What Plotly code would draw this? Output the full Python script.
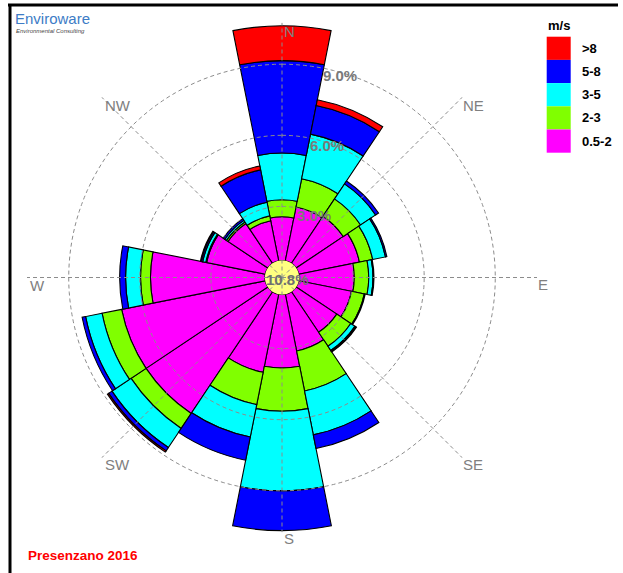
import math
import numpy as np
import plotly.graph_objects as go

# ---------------- data ----------------
DIRECTIONS = ["N", "NNE", "NE", "ENE", "E", "ESE", "SE", "SSE",
              "S", "SSW", "SW", "WSW", "W", "WNW", "NW", "NNW"]
DIR_ANGLES = [i * 22.5 for i in range(16)]

SPEED_CLASSES = ["0.5-2", "2-3", "3-5", "5-8", ">8"]
CLASS_COLORS = ["#FF00FF", "#80FF00", "#00FFFF", "#0000FF", "#FF0000"]

FREQ_05_2 = [1.84, 2.31, 2.39, 2.61, 2.33, 2.27, 2.06, 2.44, 3.10, 3.36, 6.18, 6.18, 4.83, 2.52, 2.02, 1.72]
FREQ_2_3 = [0.72, 1.22, 0.88, 0.57, 0.61, 0.55, 0.71, 1.72, 1.82, 1.39, 0.76, 0.84, 0.42, 0.04, 0.08, 0.21]
FREQ_3_5 = [1.97, 1.92, 0.76, 0.55, 0.18, 0.04, 0.21, 1.89, 3.36, 1.39, 0.97, 0.71, 0.63, 0.13, 0.08, 0.59]
FREQ_5_8 = [3.90, 1.23, 0.15, 0.06, 0.04, 0.00, 0.04, 0.59, 1.68, 1.00, 0.17, 0.15, 0.25, 0.06, 0.08, 1.39]
FREQ_GT8 = [1.47, 0.25, 0.00, 0.00, 0.00, 0.00, 0.04, 0.00, 0.00, 0.00, 0.06, 0.00, 0.00, 0.04, 0.00, 0.17]
SERIES = [FREQ_05_2, FREQ_2_3, FREQ_3_5, FREQ_5_8, FREQ_GT8]

CALM_PCT = 10.8
GRID_VALUES = [3, 6, 9]
COMPASS_LABELS = ["N", "NE", "E", "SE", "S", "SW", "W", "NW"]
COMPASS_ANGLES = [0, 45, 90, 135, 180, 225, 270, 315]

TITLE = "Presenzano 2016"
UNITS = "m/s"

# ---------------- geometry / style ----------------
W, H = 623, 573
CX, CY = 282.0, 277.5       # polar centre in pixels
R_PX = 255.0                # polar radius in pixels
RMAX = 10.76                # radial range max (percent)
SCALE = R_PX / RMAX
CALM_R = 0.72               # radius of calm disc (percent units)
GRAY = "#808080"
FONT = "Liberation Sans, Arial, sans-serif"


def to_paper(angle_deg, r):
    a = math.radians(angle_deg)
    px = CX + r * SCALE * math.sin(a)
    py = CY - r * SCALE * math.cos(a)
    return px / W, 1 - py / H


fig = go.Figure()

# invisible base so that bars start at the edge of the calm disc
fig.add_trace(go.Barpolar(
    r=[CALM_R] * len(DIRECTIONS), theta=DIR_ANGLES, width=[22.5] * 16,
    marker=dict(color="rgba(0,0,0,0)", line=dict(width=0)),
    showlegend=False, hoverinfo="skip"))

for name, vals, col in zip(SPEED_CLASSES, SERIES, CLASS_COLORS):
    fig.add_trace(go.Barpolar(
        r=vals, theta=DIR_ANGLES, width=[22.5] * 16, name=name,
        marker=dict(color=col, line=dict(color="black", width=1.1)),
        showlegend=False))

# calm disc
circ = np.linspace(0, 360, 181)
fig.add_trace(go.Scatterpolar(
    r=[CALM_R] * len(circ), theta=circ, mode="lines", fill="toself",
    fillcolor="#FFFF80", line=dict(width=0, color="#FFFF80"),
    showlegend=False, hoverinfo="skip"))

# dashed grid drawn above bars
for g in GRID_VALUES:
    fig.add_trace(go.Scatterpolar(
        r=[g] * len(circ), theta=circ, mode="lines",
        line=dict(color="#8c8c8c", width=1, dash="4px,3px"),
        showlegend=False, hoverinfo="skip"))
for a in COMPASS_ANGLES:
    fig.add_trace(go.Scatterpolar(
        r=[0, RMAX], theta=[a, a], mode="lines",
        line=dict(color="#8c8c8c", width=1, dash="4px,3px"),
        showlegend=False, hoverinfo="skip"))

fig.update_layout(
    width=W, height=H,
    margin=dict(l=0, r=0, t=0, b=0),
    paper_bgcolor="white",
    font=dict(family=FONT),
    polar=dict(
        domain=dict(x=[(CX - R_PX) / W, (CX + R_PX) / W],
                    y=[1 - (CY + R_PX) / H, 1 - (CY - R_PX) / H]),
        bgcolor="rgba(0,0,0,0)",
        bargap=0,
        radialaxis=dict(range=[0, RMAX], visible=False, showgrid=False),
        angularaxis=dict(rotation=90, direction="clockwise", showgrid=False,
                         showline=False, showticklabels=False, ticks=""),
    ),
)

ann = []
# compass labels (top-left anchored at outer end of grid spokes)
for lab, a in zip(COMPASS_LABELS, COMPASS_ANGLES):
    x, y = to_paper(a, RMAX - 0.05)
    ann.append(dict(x=x, y=y, xref="paper", yref="paper", text=lab,
                    xanchor="left", yanchor="top", showarrow=False, yshift=3,
                    font=dict(size=15, color=GRAY, family=FONT)))
# grid value labels
for g in GRID_VALUES:
    x, y = to_paper(10.5, g)
    ann.append(dict(x=x, y=y, xref="paper", yref="paper", text=f"<b>{g:.1f}%</b>",
                    xanchor="left", yanchor="top", showarrow=False, yshift=3,
                    font=dict(size=15, color="#7a7a7a", family=FONT)))
# calm label
ann.append(dict(x=(CX + 5.5) / W, y=1 - (CY + 1.5) / H, xref="paper", yref="paper",
                text=f"<b>{CALM_PCT:.1f}%</b>", showarrow=False,
                xanchor="center", yanchor="middle",
                font=dict(size=15, color="#707070", family=FONT)))

# legend (shapes + labels)
shapes = []
LX0, LX1, LY0, LH = 546.7, 570.7, 36.7, 23.2
legend_order = list(zip(SPEED_CLASSES, CLASS_COLORS))[::-1]
for i, (name, col) in enumerate(legend_order):
    y0 = LY0 + i * LH
    shapes.append(dict(type="rect", xref="paper", yref="paper",
                       x0=LX0 / W, x1=LX1 / W, y0=1 - (y0 + LH) / H, y1=1 - y0 / H,
                       fillcolor=col, line=dict(width=0), layer="above"))
    ann.append(dict(x=580 / W, y=1 - (y0 + LH / 2) / H, xref="paper", yref="paper",
                    text=f"<b>{name}</b>", xanchor="left", yanchor="middle",
                    showarrow=False, font=dict(size=13, color="black", family=FONT)))
ann.append(dict(x=546 / W, y=1 - 25 / H, xref="paper", yref="paper",
                text=f"<b>{UNITS}</b>", xanchor="left", yanchor="middle",
                showarrow=False, font=dict(size=13, color="black", family=FONT)))

# title
ann.append(dict(x=26 / W, y=1 - 555 / H, xref="paper", yref="paper",
                text=f"<b>{TITLE}</b>", xanchor="left", yanchor="middle",
                showarrow=False, font=dict(size=13.5, color="#FF0000", family=FONT)))

# logo text
ann.append(dict(x=13 / W, y=1 - 18 / H, xref="paper", yref="paper",
                text="Enviroware", xanchor="left", yanchor="middle",
                showarrow=False, font=dict(size=15, color="#3D7CC6", family=FONT)))
ann.append(dict(x=14 / W, y=1 - 30.5 / H, xref="paper", yref="paper",
                text="<i>Environmental Consulting</i>", xanchor="left", yanchor="middle",
                showarrow=False, font=dict(size=6, color="#444444", family=FONT)))

# frame
shapes.append(dict(type="line", xref="paper", yref="paper",
                   x0=8 / W, x1=618 / W, y0=1 - 5 / H, y1=1 - 5 / H,
                   line=dict(color="black", width=3)))
shapes.append(dict(type="line", xref="paper", yref="paper",
                   x0=10 / W, x1=10 / W, y0=1 - 5 / H, y1=0,
                   line=dict(color="black", width=3)))

fig.update_layout(annotations=ann, shapes=shapes)
fig.write_html("out.html", config={"displayModeBar": False},
               post_script="document.body.style.margin='0px';")
